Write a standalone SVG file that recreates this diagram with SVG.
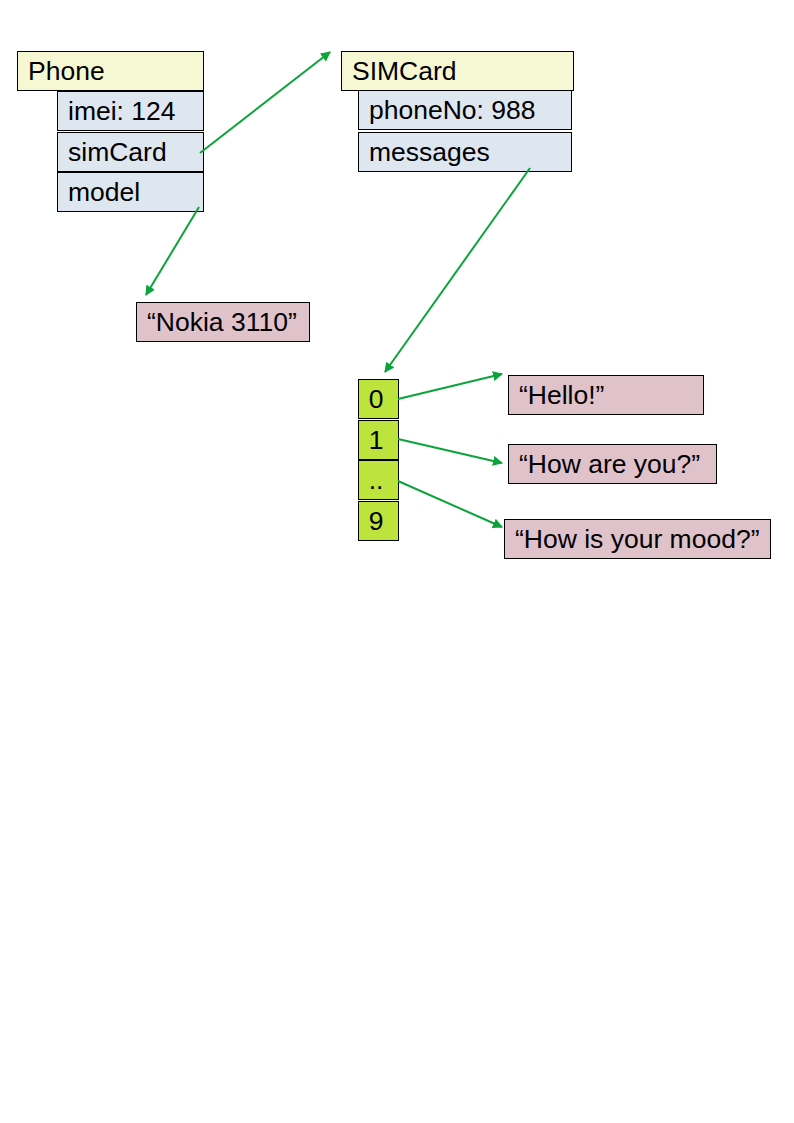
<svg xmlns="http://www.w3.org/2000/svg" width="794" height="1123" viewBox="0 0 794 1123">
<style>
rect{stroke:#000;stroke-width:1}
.cls{fill:#f6f8d3}
.fld{fill:#dee6ef}
.str{fill:#e0c2cb}
.arr{fill:#bde43c}
text{font-family:"Liberation Sans",Arial,sans-serif;font-size:26.5px;fill:#000}
.c{text-anchor:middle}
#connectors line{stroke:#0ba43a;stroke-width:2;marker-end:url(#ah)}
</style>
<defs>
<marker id="ah" viewBox="0 0 10 10" refX="9" refY="5" markerWidth="5" markerHeight="5" orient="auto" markerUnits="strokeWidth">
<path d="M0,0 L10,5 L0,10 z" fill="#0ba43a"/>
</marker>
</defs>
<rect width="794" height="1123" fill="#fff" style="stroke:none"/>
<g id="phone"><rect class="cls" x="17.5" y="51.5" width="186" height="39"/><text x="28" y="80">Phone</text></g>
<g id="phone-imei"><rect class="fld" x="57.5" y="91.5" width="146" height="39"/><text x="68" y="120">imei: 124</text></g>
<g id="phone-simcard"><rect class="fld" x="57.5" y="132.5" width="146" height="39"/><text x="68" y="161">simCard</text></g>
<g id="phone-model"><rect class="fld" x="57.5" y="172.5" width="146" height="39"/><text x="68" y="201">model</text></g>
<g id="simcard"><rect class="cls" x="341.5" y="51.5" width="232" height="39"/><text x="352" y="80">SIMCard</text></g>
<g id="simcard-phoneno"><rect class="fld" x="358.5" y="90.5" width="213" height="39"/><text x="369" y="119">phoneNo: 988</text></g>
<g id="simcard-messages"><rect class="fld" x="358.5" y="132.5" width="213" height="39"/><text x="369" y="161">messages</text></g>
<g id="nokia"><rect class="str" x="136.5" y="302.5" width="173" height="39"/><text x="147" y="331">“Nokia 3110”</text></g>
<g id="arr0"><rect class="arr" x="358.5" y="379.5" width="40" height="39"/><text class="c" x="376" y="408">0</text></g>
<g id="arr1"><rect class="arr" x="358.5" y="420.5" width="40" height="39"/><text class="c" x="376" y="449">1</text></g>
<g id="arr2"><rect class="arr" x="358.5" y="460.5" width="40" height="39"/><text class="c" x="376" y="489">..</text></g>
<g id="arr9"><rect class="arr" x="358.5" y="501.5" width="40" height="39"/><text class="c" x="376" y="530">9</text></g>
<g id="hello"><rect class="str" x="508.5" y="375.5" width="195" height="39"/><text x="519" y="404">“Hello!”</text></g>
<g id="howareyou"><rect class="str" x="508.5" y="444.5" width="208" height="39"/><text x="519" y="473">“How are you?”</text></g>
<g id="mood"><rect class="str" x="504.5" y="519.5" width="266" height="39"/><text x="515" y="548">“How is your mood?”</text></g>
<g id="connectors">
<line x1="200" y1="153" x2="330" y2="52"/>
<line x1="199" y1="207" x2="146" y2="295"/>
<line x1="530" y1="168" x2="385" y2="372"/>
<line x1="398" y1="399" x2="502" y2="374"/>
<line x1="398" y1="439" x2="502" y2="463"/>
<line x1="398" y1="481" x2="502" y2="527"/>
</g>
</svg>
